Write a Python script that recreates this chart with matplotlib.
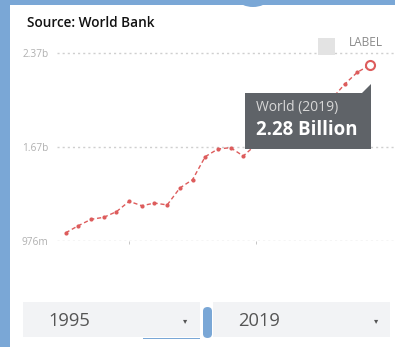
import matplotlib.pyplot as plt
from matplotlib.patches import Rectangle, FancyBboxPatch, Polygon, Ellipse

# data
years = list(range(1995, 2020))
values = [1.035, 1.088, 1.135, 1.150, 1.192, 1.269, 1.236, 1.256, 1.242, 1.368,
          1.430, 1.601, 1.658, 1.668, 1.606, 1.690, 1.750, 1.810, 1.870, 1.930,
          1.980, 2.033, 2.140, 2.229, 2.283]
ytick_vals = [0.976, 1.673, 2.37]
ytick_labels = ['976m', '1.67b', '2.37b']
start_year, end_year = '1995', '2019'

W, H = 395, 347
blue = '#7aa7d6'
red = '#dd5c5c'

plt.rcParams['font.family'] = ['Open Sans', 'DejaVu Sans']

fig = plt.figure(figsize=(W / 100, H / 100), dpi=100)


def fx(x):
    return x / W


def fy(y):
    return 1 - y / H


# plot area: 976m grid at y=240.7px, top at 50px, left at 57px
ax = fig.add_axes([fx(57), fy(240.7), 1 - fx(57), (240.7 - 50) / H])
ax.plot(years, values, color=red, lw=1, ls=(0, (3, 2)), marker='o', ms=3,
        markeredgewidth=0, zorder=3)
ax.plot(years[-1], values[-1], 'o', ms=6.5, mfc='white', mec=red, mew=1.5, zorder=4)

ax.set_xlim(1994.31, 2020.97)
ax.set_ylim(0.976, 2.3945)
ax.set_yticks(ytick_vals)
ax.set_yticklabels(ytick_labels, fontsize=7.3, color='#b0b0b0')
ax.set_xticks([2000, 2010])
ax.set_xticklabels([])
ax.tick_params(axis='y', length=0, pad=6)
ax.tick_params(axis='x', length=2.5, width=0.6, color='#bbbbbb', direction='out', pad=0)
ax.grid(axis='y', ls=(0, (1.5, 2.2)), color='#cfcfcf', lw=1)
ax.set_axisbelow(True)
for s in ax.spines.values():
    s.set_visible(False)
ax.patch.set_alpha(0)

# frame of the page
fig.add_artist(Rectangle((0, 0), fx(10), 1, transform=fig.transFigure, color=blue, lw=0))
fig.add_artist(Rectangle((0, fy(4.5)), 1, 4.5 / H, transform=fig.transFigure, color=blue, lw=0))
fig.add_artist(Ellipse((fx(253), fy(0)), 28 / W, 14 / H, transform=fig.transFigure,
                       color=blue, lw=0))

fig.text(fx(27), fy(23), 'Source: World Bank', fontsize=9.8, fontweight='semibold',
         color='#111111', va='center')

# legend
fig.add_artist(Rectangle((fx(318), fy(55)), 17 / W, 17 / H, transform=fig.transFigure,
                         color='#e3e3e3', lw=0))
fig.text(fx(349), fy(42), 'LABEL', fontsize=8.6, color='#8a8a8a', va='center')

# tooltip
tip = Polygon([(fx(245), fy(93)), (fx(362), fy(93)), (fx(371), fy(84)),
               (fx(371), fy(149)), (fx(245), fy(149))],
              closed=True, transform=fig.transFigure, color='#5f6368', lw=0, zorder=5)
fig.add_artist(tip)
fig.text(fx(256), fy(108), 'World (2019)', fontsize=10, color='#d8d8d8', va='center', zorder=6)
fig.text(fx(256), fy(130), '2.28 Billion', fontsize=13.4, fontweight='bold', color='white',
         va='center', zorder=6)

# year selectors
for x0, x1, label, caret_x in [(23, 200, start_year, 185), (213, 390, end_year, 376)]:
    fig.add_artist(Rectangle((fx(x0), fy(337)), (x1 - x0) / W, 35 / H,
                             transform=fig.transFigure, color='#f2f3f5', lw=0))
    fig.text(fx(x0 + 25), fy(321), label, fontsize=13.2, color='#555555', va='center')
    fig.text(fx(caret_x), fy(321), '▾', fontsize=6, color='#555555', va='center',
             ha='center', family='DejaVu Sans')
fig.add_artist(FancyBboxPatch((fx(203), fy(338)), 9 / W, 31 / H,
                              boxstyle='round,pad=0,rounding_size=0.012',
                              transform=fig.transFigure, color=blue, lw=0))
fig.add_artist(Rectangle((fx(143), fy(339)), 57 / W, 1.2 / H, transform=fig.transFigure,
                         color=blue, lw=0))

fig.savefig('out.png', dpi=100)
